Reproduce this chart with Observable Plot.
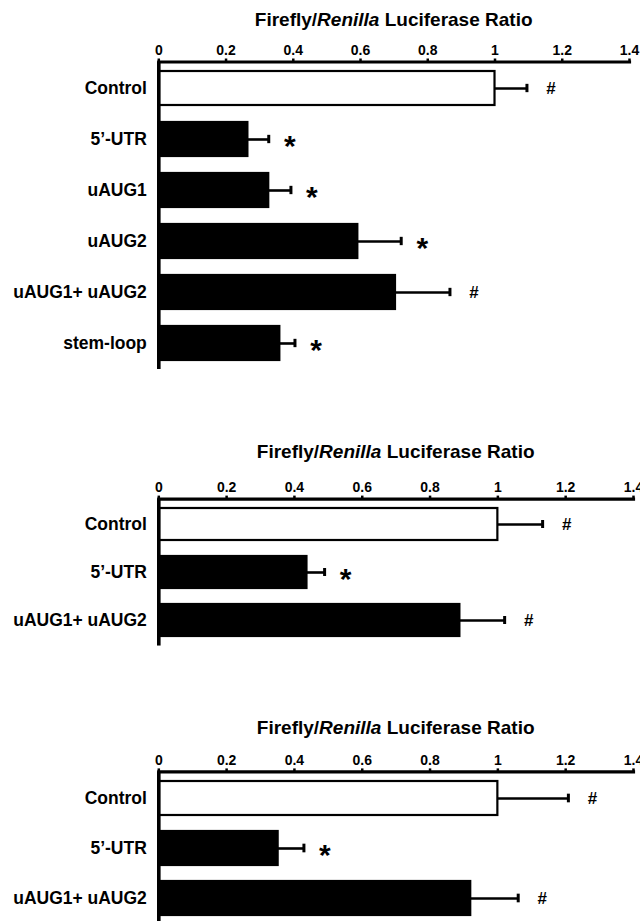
<!DOCTYPE html>
<html>
<head>
<meta charset="utf-8">
<script src="https://cdn.jsdelivr.net/npm/d3@7"></script>
<script src="https://cdn.jsdelivr.net/npm/@observablehq/plot@0.6"></script>
<style>
  html, body { margin: 0; padding: 0; background: #fff; }
  body { width: 640px; height: 921px; overflow: hidden; position: relative; font-family: "Liberation Sans", Arial, sans-serif; }
  .panel { position: absolute; left: 0; width: 640px; }
  .title { height: 30px; line-height: 30px; font-size: 19px; font-weight: bold; color: #000; text-align: center; box-sizing: border-box; }
  .panel svg { display: block; }
</style>
</head>
<body>
<script>
// ---- data ----
const tickValues = [0, 0.2, 0.4, 0.6, 0.8, 1, 1.2, 1.4];
const tickLabels = ["0", "0.2", "0.4", "0.6", "0.8", "1", "1.2", "1.4"];

const categories1 = ["Control", "5’-UTR", "uAUG1", "uAUG2", "uAUG1+ uAUG2", "stem-loop"];
const means1 = [1.0, 0.265, 0.327, 0.592, 0.704, 0.360];
const errors1 = [0.095, 0.062, 0.066, 0.129, 0.162, 0.045];
const marks1 = ["#", "*", "*", "*", "#", "*"];

const categories2 = ["Control", "5’-UTR", "uAUG1+ uAUG2"];
const means2 = [1.0, 0.437, 0.888];
const errors2 = [0.132, 0.052, 0.132];
const marks2 = ["#", "*", "#"];

const categories3 = ["Control", "5’-UTR", "uAUG1+ uAUG2"];
const means3 = [1.0, 0.352, 0.920];
const errors3 = [0.208, 0.076, 0.140];
const marks3 = ["#", "*", "#"];

// ---- layout per panel ----
const panels = [
  {cats: categories1, means: means1, errs: errors1, marks: marks1, top: 5, marginTop: 26.5, step: 51, marginRight: 11},
  {cats: categories2, means: means2, errs: errors2, marks: marks2, top: 436.7, marginTop: 31.6, step: 48.5, marginRight: 7},
  {cats: categories3, means: means3, errs: errors3, marks: marks3, top: 713.3, marginTop: 28.4, step: 50.5, marginRight: 7}
];

const marginLeft = 158.3;
const padInner = 0.33, padOuter = 0.18;
const font = "'Liberation Sans', Arial, Helvetica, sans-serif";

for (const p of panels) {
  const rows = p.cats.map((c, i) => ({cat: c, mean: p.means[i], end: p.means[i] + p.errs[i], mark: p.marks[i]}));
  const rangeLen = p.step * (p.cats.length - padInner + 2 * padOuter);
  const marginBottom = 3;
  const height = p.marginTop + rangeLen + marginBottom;
  const bandH = p.step * (1 - padInner);
  const capInset = (bandH - 8.5) / 2;

  const div = document.createElement("div");
  div.className = "panel";
  div.style.top = p.top + "px";
  const title = document.createElement("div");
  title.className = "title";
  title.style.paddingLeft = marginLeft + "px";
  title.style.width = (640 - p.marginRight) + "px";
  title.innerHTML = "Firefly/<i>Renilla</i> Luciferase Ratio";
  div.appendChild(title);

  const chart = Plot.plot({
    width: 640,
    height,
    marginLeft,
    marginRight: p.marginRight,
    marginTop: p.marginTop,
    marginBottom,
    style: {fontFamily: font, fontWeight: "bold", color: "#000", background: "#fff", overflow: "visible"},
    x: {domain: [0, 1.4], axis: null, label: null},
    y: {domain: p.cats, paddingInner: padInner, paddingOuter: padOuter, axis: null, label: null},
    marks: [
      Plot.barX(rows, {y: "cat", x1: 0, x2: "mean", fill: d => d.cat === "Control" ? "#fff" : "#000", stroke: "#000", strokeWidth: 2.2}),
      Plot.ruleY(rows, {y: "cat", x1: "mean", x2: "end", stroke: "#000", strokeWidth: 2.6}),
      Plot.tickX(rows, {y: "cat", x: "end", stroke: "#000", strokeWidth: 3, insetTop: capInset, insetBottom: capInset}),
      Plot.ruleX([0], {stroke: "#000", strokeWidth: 3.6}),
      Plot.frame({anchor: "top", stroke: "#000", strokeWidth: 3.2}),
      Plot.axisX({anchor: "top", label: null, ticks: tickValues, tickFormat: d => tickLabels[tickValues.indexOf(d)], tickSize: 4, tickPadding: 3, strokeWidth: 2.5, fontSize: 14, fontWeight: "bold", fill: "#000", stroke: "#000"}),
      Plot.axisY({label: null, tickSize: 0, tickPadding: 12, fontSize: 17.5, fontWeight: "bold", fill: "#000"}),
      Plot.text(rows.filter(d => d.mark === "*"), {y: "cat", x: "end", text: "mark", dx: 21, dy: 7, fontSize: 30, fontWeight: "bold", fill: "#000", textAnchor: "middle"}),
      Plot.text(rows.filter(d => d.mark === "#"), {y: "cat", x: "end", text: "mark", dx: 24, dy: 0, fontSize: 17, fontWeight: "bold", fill: "#000", textAnchor: "middle"})
    ]
  });
  div.appendChild(chart);
  document.body.appendChild(div);
}
</script>
</body>
</html>
